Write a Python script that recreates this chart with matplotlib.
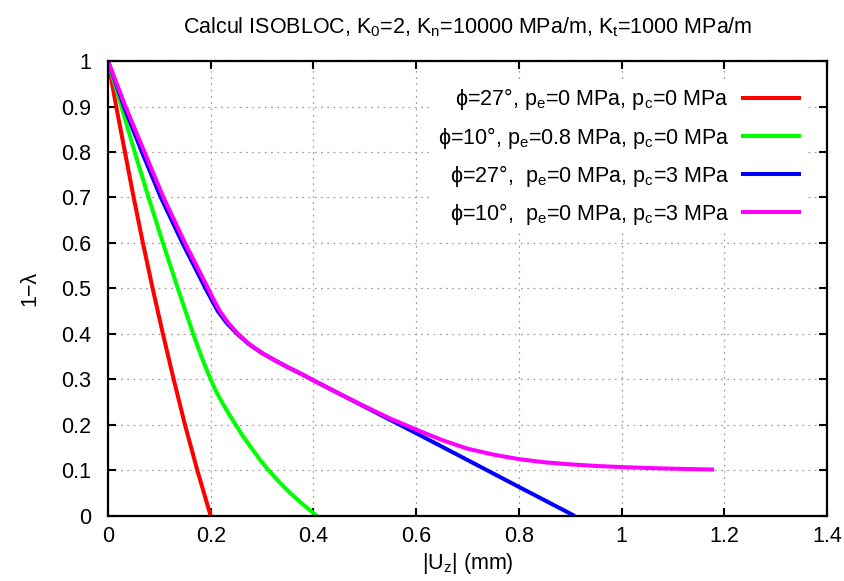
import numpy as np
import matplotlib
matplotlib.use('Agg')
import matplotlib.pyplot as plt

plt.rcParams['font.family'] = ['Liberation Sans', 'DejaVu Sans']
plt.rcParams['mathtext.fontset'] = 'custom'
plt.rcParams['mathtext.rm'] = 'Liberation Sans'
plt.rcParams['mathtext.it'] = 'Liberation Sans:italic'
plt.rcParams['mathtext.default'] = 'regular'
plt.rcParams['mathtext.fallback'] = 'stixsans'

# phi=27, pe=0, pc=0
x_red = [0, 0.016, 0.033, 0.050, 0.068, 0.087, 0.107, 0.128, 0.150, 0.174, 0.200]
y_red = [1, 0.9, 0.8, 0.7, 0.6, 0.5, 0.4, 0.3, 0.2, 0.1, 0]

# phi=10, pe=0.8, pc=0
x_green = [0, 0.026, 0.052, 0.079, 0.107, 0.136, 0.166, 0.182, 0.200, 0.210, 0.222, 0.235, 0.249,
           0.263, 0.279, 0.295, 0.313, 0.333, 0.355, 0.380, 0.407]
y_green = [1, 0.9, 0.8, 0.7, 0.6, 0.5, 0.4, 0.35, 0.3, 0.275, 0.25, 0.225, 0.2,
           0.175, 0.15, 0.125, 0.1, 0.075, 0.05, 0.025, 0]

# phi=27, pe=0, pc=3
x_blue = [0, 0.031, 0.066, 0.103, 0.145, 0.190, 0.201, 0.214, 0.232, 0.252, 0.274, 0.3, 0.325,
          0.35, 0.375, 0.4, 0.45, 0.5, 0.55, 0.6, 0.7, 0.8, 0.909]
y_blue = [1, 0.9, 0.8, 0.7, 0.6, 0.5, 0.477, 0.45, 0.423, 0.4, 0.378, 0.358, 0.342,
          0.327, 0.313, 0.298, 0.269, 0.240, 0.211, 0.182, 0.123, 0.064, 0]

# phi=10, pe=0, pc=3
x_mag = [0, 0.034, 0.071, 0.108, 0.150, 0.195, 0.205, 0.218, 0.235, 0.2535, 0.275, 0.3, 0.325,
         0.35, 0.375, 0.4, 0.45, 0.5, 0.55, 0.6, 0.65, 0.7, 0.75, 0.8, 0.85, 0.9, 0.95, 1.0,
         1.05, 1.1, 1.18]
y_mag = [1, 0.9, 0.8, 0.7, 0.6, 0.5, 0.477, 0.45, 0.423, 0.4, 0.378, 0.358, 0.342,
         0.327, 0.313, 0.298, 0.269, 0.241, 0.214, 0.190, 0.167, 0.148, 0.135, 0.125, 0.118,
         0.1135, 0.110, 0.1075, 0.1055, 0.104, 0.102]

labels = [r'ϕ=27°, p$_e$=0 MPa, p$_c$=0 MPa',
          r'ϕ=10°, p$_e$=0.8 MPa, p$_c$=0 MPa',
          r'ϕ=27°,  p$_e$=0 MPa, p$_c$=3 MPa',
          r'ϕ=10°,  p$_e$=0 MPa, p$_c$=3 MPa']
colors = ['#ff0000', '#00ff00', '#0000ff', '#ff00ff']
fs = 15.5

fig = plt.figure(figsize=(8.45, 5.81), dpi=100)
ax = fig.add_axes([0.1278, 0.1119, 0.8509, 0.7831])

series = [(x_red, y_red), (x_green, y_green), (x_blue, y_blue), (x_mag, y_mag)]
for (xs, ys), c, lab in zip(series, colors, labels):
    ax.plot(xs, ys, color=c, lw=2.9, label=lab, solid_capstyle='butt', solid_joinstyle='round')

ax.set_xlim(0, 1.4)
ax.set_ylim(0, 1)
ax.set_xticks(np.arange(0, 1.41, 0.2))
ax.set_yticks(np.arange(0, 1.01, 0.1))
ax.set_xticklabels(['0', '0.2', '0.4', '0.6', '0.8', '1', '1.2', '1.4'])
ax.set_yticklabels(['0', '0.1', '0.2', '0.3', '0.4', '0.5', '0.6', '0.7', '0.8', '0.9', '1'])
ax.tick_params(direction='in', length=6, width=1.5, top=True, right=True, labelsize=fs)
ax.tick_params(axis='y', pad=12)
ax.tick_params(axis='x', pad=7)
for s in ax.spines.values():
    s.set_linewidth(1.6)
ax.grid(True, color='#a0a0a0', linestyle=(0, (1.5, 3.5)), linewidth=0.9)

ax.set_title(r'Calcul ISOBLOC, K$_0$=2, K$_n$=10000 MPa/m, K$_t$=1000 MPa/m', fontsize=fs, pad=20)
ax.set_xlabel(r'|U$_z$| (mm)', fontsize=fs, labelpad=3)
ax.set_ylabel('1−λ', fontsize=fs, labelpad=15)

leg = ax.legend(loc='upper right', bbox_to_anchor=(807 / 845, 1 - 80 / 581), bbox_transform=fig.transFigure,
                markerfirst=False, fontsize=fs, handlelength=2.75, handletextpad=0.56, labelspacing=0.56,
                borderpad=0.3, borderaxespad=0, frameon=True, fancybox=False)
leg.get_frame().set_edgecolor('none')
leg.get_frame().set_facecolor('white')
leg.get_frame().set_alpha(1)

fig.savefig('out.png', dpi=100)
